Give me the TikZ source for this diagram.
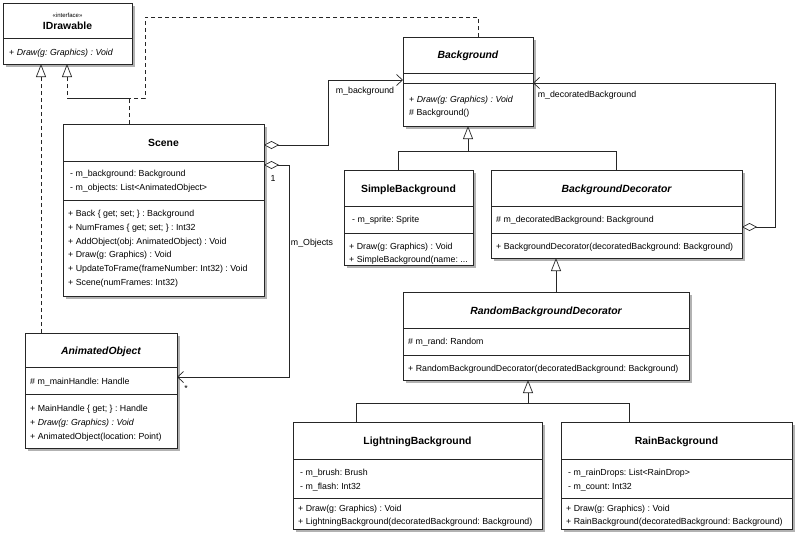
\documentclass[tikz,border=0pt]{standalone}
\usepackage{fontspec}
\setmainfont{Liberation Sans}
\usetikzlibrary{arrows.meta,shadows}
\frenchspacing
\newcounter{tn}
\newcommand\tx[3]{\stepcounter{tn}\node[txt] (t\arabic{tn}) at (#1,#2+3) {#3};}
\newcommand\hd[3]{\stepcounter{tn}\node[hdr] (t\arabic{tn}) at (#1,#2+3.7) {#3};}
\newcommand\umlbox[5]{\node[cls, minimum width={(#4)-(#2)}, minimum height={(#5)-(#3)}] (#1) at ({((#2)+(#4))/2},{((#3)+(#5))/2}) {};}
\newcommand\hdiv[2]{\draw[divl] (#1.west |- 0,#2) -- (#1.east |- 0,#2);}
\begin{document}
\begin{tikzpicture}[x=1pt,y=-1pt,
  cls/.style={draw=black!85, fill=white, line width=0.8pt, inner sep=0pt, outer sep=0pt,
    drop shadow={shadow xshift=2.5pt, shadow yshift=-2.5pt, fill=black!30, opacity=1}},
  divl/.style={draw=black!85, line width=0.7pt},
  txt/.style={anchor=base west, inner sep=0pt, font=\fontsize{8.8}{10}\selectfont\frenchspacing},
  hdr/.style={anchor=base, inner sep=0pt, font=\fontsize{10.4}{12}\selectfont\bfseries},
  lbl/.style={inner sep=0pt, font=\fontsize{8.8}{10}\selectfont},
  conn/.style={draw=black!85, line width=0.7pt},
  real/.style={conn, dash pattern=on 4pt off 3pt, -{Triangle[open, length=13pt, width=10pt, fill=white]}},
  dep/.style={conn, dash pattern=on 4pt off 3pt},
  gen/.style={conn, -{Triangle[open, length=13pt, width=10pt, fill=white]}},
  agg/.style={conn, {Diamond[open, length=15pt, width=8pt, fill=white]}-{Straight Barb[length=6pt, width=11pt]}},
]
\useasboundingbox (0,0) rectangle (800,547);
\fill[white] (0,0) rectangle (800,547);

% ---------- classes ----------
\umlbox{idraw}{3}{3}{132}{64}
\hdiv{idraw}{38}
\node[inner sep=0pt, font=\fontsize{6}{7}\selectfont] (t0) at (67.5,15) {«interface»};
\hd{67.5}{26}{IDrawable}
\tx{9}{52}{+ \textit{Draw(g: Graphics) : Void}}

\umlbox{bg}{403}{37}{533}{126}
\hdiv{bg}{73}
\hdiv{bg}{83}
\hd{468}{55}{\itshape Background}
\tx{409}{99}{+ \textit{Draw(g: Graphics) : Void}}
\tx{409}{112}{\# Background()}

\umlbox{scene}{63}{124}{264}{296}
\hdiv{scene}{161}
\hdiv{scene}{200}
\hd{163.5}{143}{Scene}
\tx{70}{173}{- m\_background: Background}
\tx{70}{187}{- m\_objects: List<AnimatedObject>}
\tx{68}{213}{+ Back \{ get; set; \} : Background}
\tx{68}{227}{+ NumFrames \{ get; set; \} : Int32}
\tx{68}{241}{+ AddObject(obj: AnimatedObject) : Void}
\tx{68}{254}{+ Draw(g: Graphics) : Void}
\tx{68}{268}{+ UpdateToFrame(frameNumber: Int32) : Void}
\tx{68}{282}{+ Scene(numFrames: Int32)}

\umlbox{simple}{344}{170}{473}{265}
\hdiv{simple}{206}
\hdiv{simple}{233}
\hd{408.5}{189}{SimpleBackground}
\tx{352}{219}{- m\_sprite: Sprite}
\tx{349}{246}{+ Draw(g: Graphics) : Void}
\tx{349}{259}{+ SimpleBackground(name: ...}

\umlbox{bgdec}{491}{170}{742}{258}
\hdiv{bgdec}{206}
\hdiv{bgdec}{233}
\hd{616.5}{189}{\itshape BackgroundDecorator}
\tx{496}{219}{\# m\_decoratedBackground: Background}
\tx{496}{246}{+ BackgroundDecorator(decoratedBackground: Background)}

\umlbox{rbd}{403}{292}{689}{380}
\hdiv{rbd}{328}
\hdiv{rbd}{355}
\hd{546}{311}{\itshape RandomBackgroundDecorator}
\tx{408}{341}{\# m\_rand: Random}
\tx{408}{368}{+ RandomBackgroundDecorator(decoratedBackground: Background)}

\umlbox{anim}{25}{333}{177}{448}
\hdiv{anim}{367}
\hdiv{anim}{394}
\hd{101}{351}{\itshape AnimatedObject}
\tx{30}{381}{\# m\_mainHandle: Handle}
\tx{30}{408}{+ MainHandle \{ get; \} : Handle}
\tx{30}{422}{+ \textit{Draw(g: Graphics) : Void}}
\tx{30}{436}{+ AnimatedObject(location: Point)}

\umlbox{light}{293}{422}{542}{529}
\hdiv{light}{459}
\hdiv{light}{498}
\hd{417.5}{441}{LightningBackground}
\tx{300}{472}{- m\_brush: Brush}
\tx{300}{486}{- m\_flash: Int32}
\tx{298}{508}{+ Draw(g: Graphics) : Void}
\tx{298}{521}{+ LightningBackground(decoratedBackground: Background)}

\umlbox{rain}{561}{422}{792}{529}
\hdiv{rain}{459}
\hdiv{rain}{498}
\hd{676.5}{441}{RainBackground}
\tx{568}{472}{- m\_rainDrops: List<RainDrop>}
\tx{568}{486}{- m\_count: Int32}
\tx{566}{508}{+ Draw(g: Graphics) : Void}
\tx{566}{521}{+ RainBackground(decoratedBackground: Background)}

% ---------- connectors ----------
\draw[real] (anim.north -| 41,0) -- (idraw.south -| 41,0);
\draw[real] (scene.north -| 129,0) |- (67,98) -- (idraw.south -| 67,0);
\draw[dep] (bg.north -| 478,0) |- (145,17) |- (67,98);

\draw[agg] (scene.east |- 0,145) -| (328,80) -- (bg.west |- 0,80);
\node[lbl] (lb1) at (365,91) {m\_background};

\draw[agg] (scene.east |- 0,165) -| (289,377) -- (anim.east |- 0,377);
\node[lbl] (lb2) at (273,178) {1};
\node[lbl] (lb3) at (312,243) {m\_Objects};
\node[lbl] (lb4) at (186,388) {*};

\draw[gen] (simple.north -| 398,0) |- (468,151) -- (bg.south -| 468,0);
\draw[conn] (bgdec.north -| 616,0) |- (468,151);

\draw[agg] (bgdec.east |- 0,227) -| (775,83) -- (bg.east |- 0,83);
\node[lbl] (lb5) at (587,95) {m\_decoratedBackground};

\draw[gen] (rbd.north -| 556,0) -- (bgdec.south -| 556,0);

\draw[gen] (light.north -| 356,0) |- (528,403) -- (rbd.south -| 528,0);
\draw[conn] (rain.north -| 629,0) |- (528,403);
\end{tikzpicture}
\end{document}
